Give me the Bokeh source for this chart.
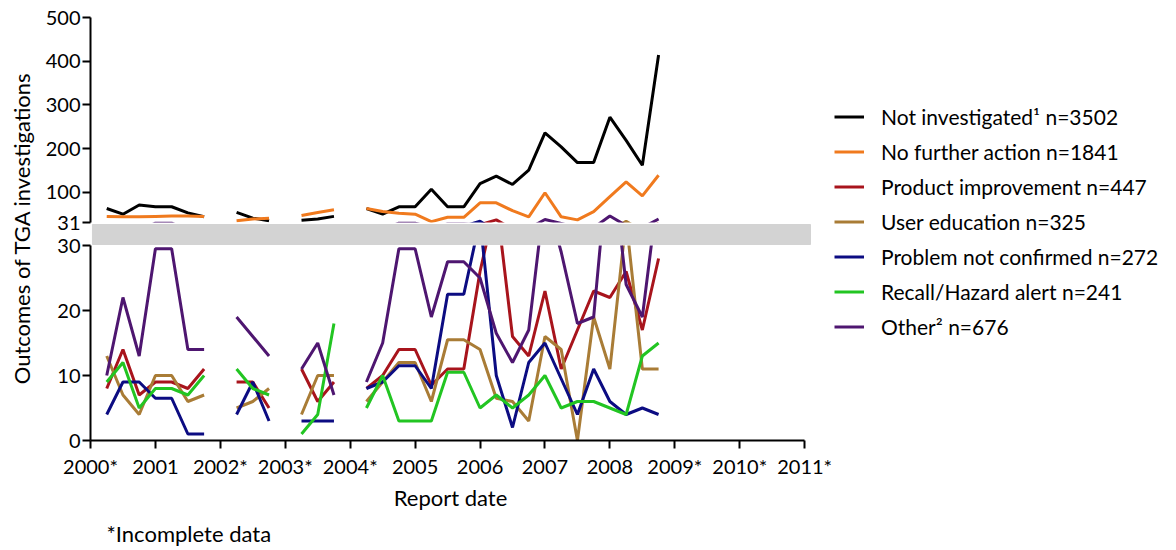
import math
from bokeh.plotting import figure
from bokeh.layouts import row, column
from bokeh.models import (ColumnDataSource, Range1d, FixedTicker,
                          Legend, LegendItem, Label, Title)
from bokeh.embed import file_html
from bokeh.resources import INLINE

NaN = float("nan")

# Report quarters (NaN rows mark the breaks in the series)
quarters = [2000.25, 2000.5, 2000.75, 2001.0, 2001.25, 2001.5, 2001.75,
            2002.0, 2002.25, 2002.5, 2002.75,
            2003.0, 2003.25, 2003.5, 2003.75,
            2004.0, 2004.25, 2004.5, 2004.75, 2005.0, 2005.25, 2005.5, 2005.75,
            2006.0, 2006.25, 2006.5, 2006.75, 2007.0, 2007.25, 2007.5, 2007.75,
            2008.0, 2008.25, 2008.5, 2008.75]

not_investigated = [63, 50, 71, 67, 67, 53, 44, NaN, 54, 41, 35, NaN, 36, 39, 45, NaN,
                    63, 50, 67, 67, 107, 67, 67, 120, 137, 118, 151, 236, 204, 168, 168,
                    272, 219, 162, 414]
no_further_action = [45, 44, 44, 45, 46, 46, 45, NaN, 35, 39, 41, NaN, 47, 54, 60, NaN,
                     63, 56, 52, 50, 33, 43, 43, 76, 76, 58, 44, 99, 44, 37, 56,
                     90, 124, 92, 139]
product_improvement = [8, 14, 7, 9, 9, 8, 11, NaN, 9, 9, 5, NaN, 11, 6, 9, NaN,
                       8, 10, 14, 14, 8.5, 11, 11, 26, 37, 16, 13, 23, 11, 17, 23,
                       22, 26, 17, 28]
user_education = [13, 7, 4, 10, 10, 6, 7, NaN, 5, 6, 8, NaN, 4, 10, 10, NaN,
                  6, 9, 12, 12, 6, 15.5, 15.5, 14, 6.5, 6, 3, 16, 14, 0, 19,
                  11, 34, 11, 11]
problem_not_confirmed = [4, 9, 9, 6.5, 6.5, 1, 1, NaN, 4, 9, 3, NaN, 3, 3, 3, NaN,
                         8, 9, 11.5, 11.5, 8, 22.5, 22.5, 34, 10, 2, 12, 15, 9.5, 4, 11,
                         6, 4, 5, 4]
recall_hazard = [9, 12, 5, 8, 8, 7, 10, NaN, 11, 8, 7, NaN, 1, 4, 18, NaN,
                 5, 10, 3, 3, 3, 10.5, 10.5, 5, 7, 5, 7, 10, 5, 6, 6,
                 5, 4, 13, 15]
other = [10, 22, 13, 29.5, 29.5, 14, 14, NaN, 19, 16, 13, NaN, 11, 15, 7, NaN,
         9, 15, 29.5, 29.5, 19, 27.5, 27.5, 25, 16.5, 12, 17, 38, 29, 18, 19,
         46, 24, 19, 39]

series_labels = ["Not investigated\u00b9 n=3502", "No further action n=1841",
                 "Product improvement n=447", "User education n=325",
                 "Problem not confirmed n=272", "Recall/Hazard alert n=241",
                 "Other\u00b2 n=676"]
series_colors = ["#000000", "#f07a1e", "#a8141c", "#a97c36", "#0c0c82", "#22c522", "#4e1670"]
series_values = [not_investigated, no_further_action, product_improvement, user_education,
                 problem_not_confirmed, recall_hazard, other]

year_ticks = list(range(2000, 2012))
year_labels = ["2000*", "2001", "2002*", "2003*", "2004*", "2005", "2006", "2007",
               "2008", "2009*", "2010*", "2011*"]
upper_ticks = [31, 100, 200, 300, 400, 500]
lower_ticks = [0, 10, 20, 30]

FONT = "Lato"
TICK_FS = "20px"
TITLE_FS = "22px"
LEG_FS = "21px"
BAND = "#d3d3d3"

X_END = 2011.09
x_range = Range1d(2000.0, X_END)


def style_axis(ax):
    ax.axis_line_width = 2
    ax.axis_line_color = "black"
    ax.major_tick_line_width = 2
    ax.major_tick_line_color = "black"
    ax.major_tick_out = 8
    ax.major_tick_in = 0
    ax.minor_tick_line_color = None
    ax.major_label_text_font = FONT
    ax.major_label_text_font_size = TICK_FS
    ax.major_label_text_color = "black"


# ---------------- upper panel (31 - 500) ----------------
top = figure(width=792, height=233, x_range=x_range, y_range=Range1d(31, 500),
             output_backend="svg", toolbar_location=None, x_axis_location=None,
             min_border_left=48, min_border_right=24, min_border_top=17, min_border_bottom=11)
top.outline_line_color = None
top.grid.visible = False
for vals, col in zip(series_values, series_colors):
    top.line(quarters, vals, line_color=col, line_width=3)
top.yaxis.ticker = FixedTicker(ticks=upper_ticks)
top.yaxis.bounds = (31, 500)
top.yaxis.major_label_standoff = 2
style_axis(top.yaxis[0])
# upper part of the axis-break band (below the 31 tick)
top.quad(left=[2000.03], right=[X_END], bottom=[-2000], top=[26.4],
         fill_color=BAND, line_color=BAND, line_width=1, level="overlay")

# ---------------- lower panel (0 - 30) ----------------
bot = figure(width=792, height=317, x_range=x_range, y_range=Range1d(0, 30),
             output_backend="svg", toolbar_location=None,
             min_border_left=48, min_border_right=24, min_border_top=12, min_border_bottom=110)
bot.outline_line_color = None
bot.grid.visible = False
for vals, col in zip(series_values[2:], series_colors[2:]):
    bot.line(quarters, vals, line_color=col, line_width=3)
bot.yaxis.ticker = FixedTicker(ticks=lower_ticks)
bot.yaxis.bounds = (0, 30)
bot.yaxis.major_label_standoff = 2
style_axis(bot.yaxis[0])
bot.xaxis.ticker = FixedTicker(ticks=year_ticks)
bot.xaxis.major_label_overrides = {t: lab for t, lab in zip(year_ticks, year_labels)}
bot.xaxis.bounds = (2000, 2011)
bot.xaxis.major_label_standoff = 5
style_axis(bot.xaxis[0])
bot.xaxis.axis_label = "Report date"
bot.xaxis.axis_label_text_font = FONT
bot.xaxis.axis_label_text_font_size = TITLE_FS
bot.xaxis.axis_label_text_font_style = "normal"
bot.xaxis.axis_label_text_color = "black"
bot.xaxis.axis_label_standoff = 3
# lower part of the axis-break band (above the 30 tick)
bot.quad(left=[2000.03], right=[X_END], bottom=[30.15], top=[2000],
         fill_color=BAND, line_color=BAND, line_width=1, level="overlay")
bot.add_layout(Title(text="*Incomplete data", align="left", offset=16, standoff=8,
                     text_font=FONT, text_font_size=TITLE_FS, text_font_style="normal",
                     text_color="black"), "below")

# ---------------- y label ----------------
lab = figure(width=42, height=550, x_range=Range1d(0, 1), y_range=Range1d(0, 1),
             output_backend="svg", toolbar_location=None, x_axis_location=None,
             y_axis_location=None, min_border=0)
lab.outline_line_color = None
lab.grid.visible = False
lab.add_layout(Label(x=0.5, y=0.5864, text="Outcomes of TGA investigations", angle=math.pi / 2,
                     text_align="center", text_baseline="middle", text_font=FONT,
                     text_font_size=TITLE_FS, text_color="black"))

# ---------------- legend ----------------
leg = figure(width=342, height=550, x_range=Range1d(0, 1), y_range=Range1d(0, 1),
             output_backend="svg", toolbar_location=None, x_axis_location=None,
             y_axis_location=None, min_border=0)
leg.outline_line_color = None
leg.grid.visible = False
items = []
for name, col in zip(series_labels, series_colors):
    r = leg.line(x="x", y="y", source=ColumnDataSource(data=dict(x=[5, 6], y=[5, 6])),
                 line_color=col, line_width=3)
    items.append(LegendItem(label=name, renderers=[r]))
legend = Legend(items=items, location=(0, 211), padding=0, margin=0,
                border_line_color=None, background_fill_alpha=0,
                glyph_width=30, glyph_height=25, label_height=25, spacing=10,
                label_standoff=17, label_text_font=FONT, label_text_font_size=LEG_FS,
                label_text_color="black")
leg.add_layout(legend)

layout = row(lab, column(top, bot, spacing=0), leg)

open("out.html", "w").write(file_html(layout, INLINE))
